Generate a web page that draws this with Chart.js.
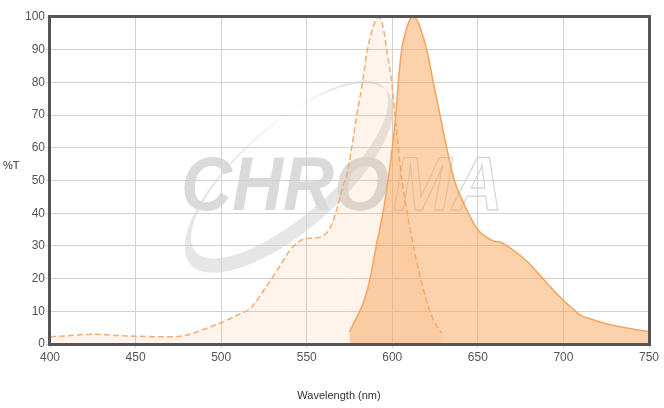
<!DOCTYPE html>
<html>
<head>
<meta charset="utf-8">
<script src="https://cdn.jsdelivr.net/npm/chart.js@4.4.0/dist/chart.umd.min.js"></script>
<style>
  html, body { margin: 0; padding: 0; background: #fff; }
  #wrap { width: 664px; height: 408px; }
</style>
</head>
<body>
<div id="wrap"><canvas id="spectrum_chart"></canvas></div>
<script>
// excitation (dashed) curve
const excitationNm = [400, 410, 425, 440, 450, 465, 475, 483, 490, 495, 500, 510, 517, 525, 534, 540, 545, 550, 555, 559, 562, 565, 568, 571, 573.5, 576.3, 579.2, 582.5, 585.4, 588, 590.3, 591.8, 593.3, 595, 596.7, 599.7, 601.6, 603.5, 605.7, 608.8, 612.3, 616.6, 622, 626, 629];
const excitationT = [2.2, 2.5, 3.0, 2.6, 2.4, 2.2, 2.3, 3.2, 4.5, 5.5, 6.5, 9, 10.9, 16.5, 23.6, 28.5, 31.2, 32.3, 32.4, 33, 34.2, 37, 42, 48, 52, 60, 69.7, 79.7, 89.9, 95.5, 99, 100, 99.2, 96, 90, 80, 70, 60, 50, 40, 30, 20, 10, 5.5, 3.3];

// emission (solid) curve
const emissionNm = [575, 578, 581, 584, 587, 591, 594.5, 597.5, 600, 602, 603.5, 605.5, 608, 610.3, 612.3, 614.3, 616.5, 620.1, 624, 627.9, 631.8, 636.3, 640, 644.4, 648, 651.3, 655, 659, 663, 667, 670.6, 675, 680, 688, 695, 700, 705, 710, 715, 721, 728, 737, 745, 750];
const emissionT = [3.7, 7, 10, 14, 20, 31, 40, 50, 60, 70, 80, 90, 96, 99.2, 100, 99.2, 96.5, 90, 80, 70, 60, 50, 45, 40, 36.5, 34.2, 32.7, 31.5, 31.2, 30, 28.7, 27, 24.6, 20, 16, 13.4, 11, 8.8, 7.8, 6.8, 5.8, 4.9, 4.2, 3.75];

const xTicks = [400, 450, 500, 550, 600, 650, 700, 750];
const yTicks = [0, 10, 20, 30, 40, 50, 60, 70, 80, 90, 100];

const FONT = '"Liberation Sans", Arial, sans-serif';

function toPoints(xs, ys) {
  return xs.map((x, i) => ({ x: x, y: ys[i] }));
}

const watermark = {
  id: "watermark",
  beforeDraw(chart) {
    const ctx = chart.ctx;
    ctx.save();
    // swoosh
    ctx.save();
    ctx.translate(289, 178);
    ctx.rotate(-0.72);
    ctx.beginPath();
    ctx.ellipse(0, 0, 131, 52, 0, 0, Math.PI * 2);
    ctx.ellipse(6, -6, 125, 45, 0, 0, Math.PI * 2);
    ctx.fillStyle = "#e6e6e6";
    ctx.fill("evenodd");
    ctx.restore();
    // letters
    ctx.translate(181, 210);
    ctx.scale(0.93, 1);
    ctx.font = "italic bold 76px " + FONT;
    ctx.fillStyle = "#dadada";
    ctx.fillText("CHRO", 0, 0);
    const w = ctx.measureText("CHRO").width;
    ctx.strokeStyle = "#d6d6d6";
    ctx.lineWidth = 1.3;
    ctx.strokeText("MA", w + 4, 0);
    ctx.restore();
  },
  afterDraw(chart) {
    const ctx = chart.ctx;
    const a = chart.chartArea;
    ctx.save();
    ctx.strokeStyle = "#555";
    ctx.lineWidth = 3;
    ctx.strokeRect(a.left - 0.5, a.top - 0.5, a.right - a.left + 1, a.bottom - a.top + 1);
    ctx.font = "11px " + FONT;
    ctx.fillStyle = "#333";
    ctx.textBaseline = "middle";
    ctx.textAlign = "left";
    ctx.fillText("%T", 3, 166);
    ctx.textAlign = "center";
    ctx.fillText("Wavelength (nm)", 339, 396);
    ctx.restore();
  },
};

const ctx = document.getElementById("spectrum_chart");

new Chart(ctx, {
  type: "line",
  data: {
    datasets: [
      {
        label: "Excitation",
        data: toPoints(excitationNm, excitationT),
        borderColor: "rgba(245,165,100,0.9)",
        borderWidth: 1.5,
        borderDash: [6, 3],
        backgroundColor: "rgba(250,165,90,0.12)",
        fill: "origin",
        pointRadius: 0,
        cubicInterpolationMode: "monotone",
      },
      {
        label: "Emission",
        data: toPoints(emissionNm, emissionT),
        borderColor: "rgba(245,160,85,0.95)",
        borderWidth: 1.5,
        backgroundColor: "rgba(250,165,90,0.5)",
        fill: "origin",
        pointRadius: 0,
        cubicInterpolationMode: "monotone",
      },
    ],
  },
  options: {
    responsive: true,
    maintainAspectRatio: false,
    animation: false,
    layout: { padding: { top: 17, right: 15, left: 0, bottom: 0 } },
    scales: {
      x: {
        type: "linear",
        min: 400,
        max: 750,
        afterBuildTicks: (scale) => { scale.ticks = xTicks.map((v) => ({ value: v })); },
        afterFit: (scale) => { scale.height = 64; },
        ticks: { color: "#555", font: { size: 12, family: FONT }, padding: 2, maxRotation: 0 },
        grid: { color: "#d2d2d2", tickLength: 4 },
        border: { display: false },
      },
      y: {
        min: 0,
        max: 100,
        afterBuildTicks: (scale) => { scale.ticks = yTicks.map((v) => ({ value: v })); },
        afterFit: (scale) => { scale.width = 50; },
        ticks: { color: "#555", font: { size: 12, family: FONT }, padding: 1 },
        grid: { color: "#d2d2d2", tickLength: 4 },
        border: { display: false },
      },
    },
    plugins: {
      legend: false,
      tooltip: { enabled: false },
    },
  },
  plugins: [watermark],
});
</script>
</body>
</html>
